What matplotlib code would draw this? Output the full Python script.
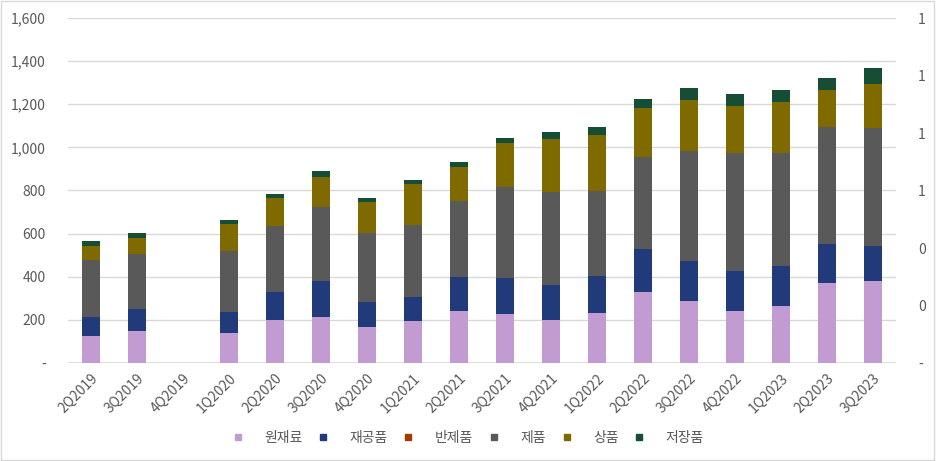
import numpy as np
import matplotlib
matplotlib.use('Agg')
import matplotlib.pyplot as plt
from matplotlib.lines import Line2D
from matplotlib.patches import Rectangle
from matplotlib.ticker import FuncFormatter

plt.rcParams['font.family'] = ['Noto Sans CJK KR', 'DejaVu Sans']

# Data
quarters = ['2Q2019', '3Q2019', '4Q2019', '1Q2020', '2Q2020', '3Q2020', '4Q2020', '1Q2021', '2Q2021',
            '3Q2021', '4Q2021', '1Q2022', '2Q2022', '3Q2022', '4Q2022', '1Q2023', '2Q2023', '3Q2023']
raw = [127, 150, 0, 141, 200, 214, 169, 196, 239, 225, 200, 233, 328, 286, 241, 266, 370, 380]
wip = [86, 100, 0, 96, 131, 164, 115, 112, 161, 170, 161, 170, 201, 187, 184, 184, 183, 164]
semi = [0] * 18
finished = [263, 257, 0, 281, 306, 347, 318, 332, 350, 420, 431, 395, 426, 509, 549, 523, 541, 547]
goods = [67, 74, 0, 127, 127, 136, 145, 190, 159, 205, 246, 259, 228, 237, 219, 238, 171, 205]
stored = [21, 20, 0, 18, 21, 31, 17, 20, 24, 24, 34, 39, 41, 58, 55, 57, 56, 73]

series = [('원재료', raw, '#C39BD3'),
          ('재공품', wip, '#203A7A'),
          ('반제품', semi, '#9E3D00'),
          ('제품', finished, '#595959'),
          ('상품', goods, '#7F6A00'),
          ('저장품', stored, '#154D35')]

text_color = '#595959'
grid_color = '#d9d9d9'

fig = plt.figure(figsize=(9.36, 4.61), dpi=100)
ax = fig.add_axes([68 / 936, 1 - 363 / 461, 828 / 936, 345 / 461])

x = np.arange(len(quarters))
bottom = np.zeros(len(quarters))
for name, vals, color in series:
    vals = np.array(vals, dtype=float)
    ax.bar(x, vals, 0.4, bottom=bottom, color=color, linewidth=0, zorder=3)
    bottom += vals

ax.set_xlim(-0.5, len(quarters) - 0.5)
ax.set_ylim(0, 1600)
ax.set_yticks(np.arange(0, 1601, 200))
ax.yaxis.set_major_formatter(FuncFormatter(lambda v, p: '-' if v == 0 else f'{int(v):,}'))
ax.grid(axis='y', color=grid_color, linewidth=1, zorder=0)
ax.set_xticks(x)
ax.set_xticklabels(quarters, rotation=45, ha='right', rotation_mode='anchor')
for s in ax.spines.values():
    s.set_visible(False)
ax.axhline(0, color=grid_color, linewidth=1.2, zorder=2)
ax.tick_params(axis='y', length=0, pad=16, labelsize=10, labelcolor=text_color)
ax.tick_params(axis='x', length=0, pad=6, labelsize=10, labelcolor=text_color)

ax2 = ax.twinx()
ax2.set_ylim(0, 1.2)
ax2.set_yticks(np.arange(0, 1.21, 0.2))
ax2.yaxis.set_major_formatter(FuncFormatter(lambda v, p: '-' if abs(v) < 1e-9 else f'{round(v + 1e-9):d}'))
for s in ax2.spines.values():
    s.set_visible(False)
ax2.tick_params(axis='y', length=0, pad=16, labelsize=10, labelcolor=text_color)

handles = [Line2D([], [], marker='s', linestyle='none', markersize=5, color=c, label=n)
           for n, _, c in series]
fig.legend(handles=handles, loc='center', bbox_to_anchor=(0.5, 1 - 438 / 461), ncol=6,
           frameon=False, fontsize=10, labelcolor=text_color, handlelength=0.8,
           handletextpad=1.5, columnspacing=1.1)

fig.patches.append(Rectangle((0.001, 0.002), 0.997, 0.996, transform=fig.transFigure,
                             fill=False, edgecolor=grid_color, linewidth=1))

fig.savefig('out.png', dpi=100)
